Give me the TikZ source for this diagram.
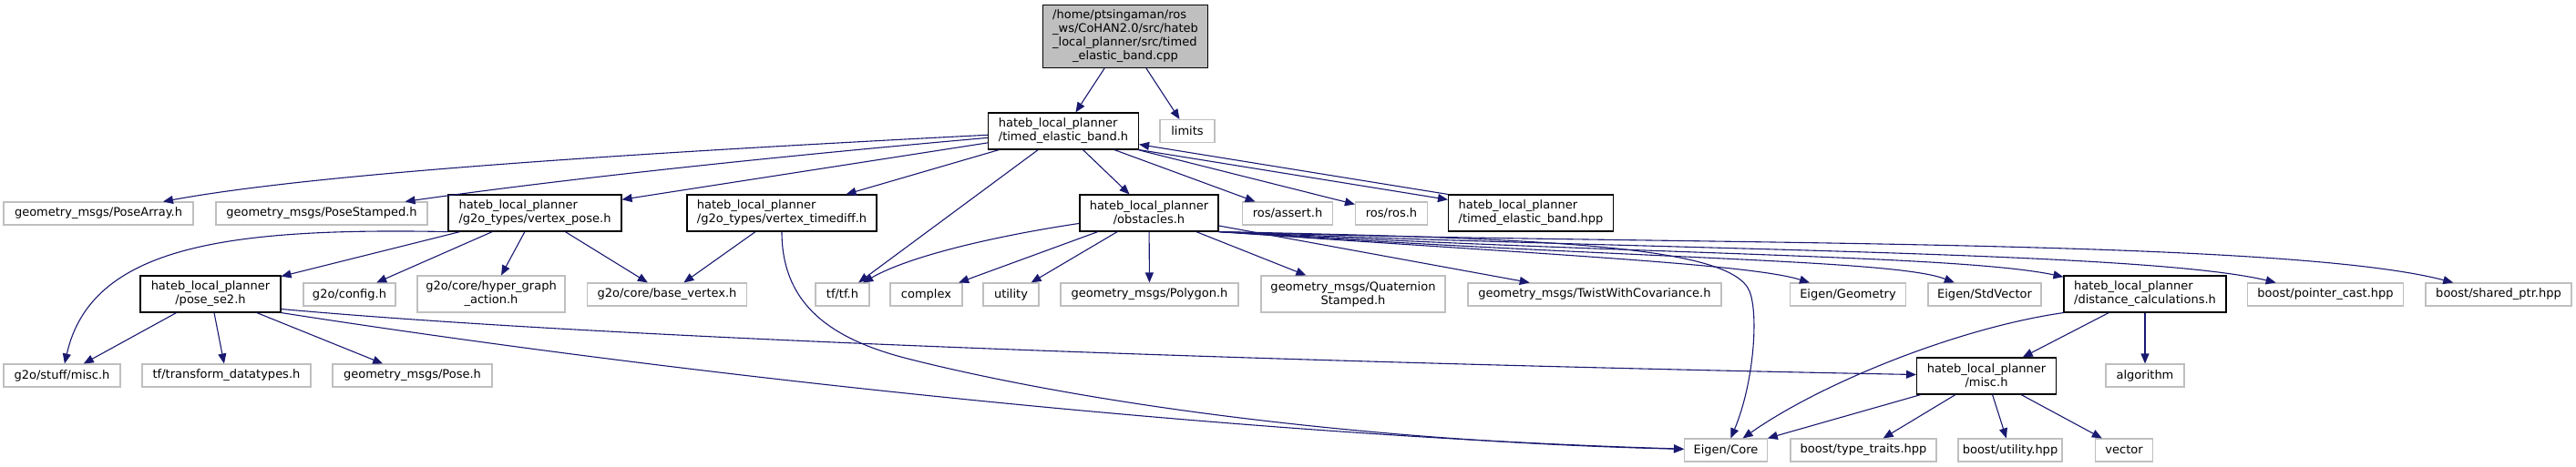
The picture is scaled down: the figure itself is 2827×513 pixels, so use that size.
\documentclass[tikz,border=0pt]{standalone}
\usepackage{fontspec}
\setmainfont{DejaVu Sans}
\usetikzlibrary{arrows.meta}
\definecolor{edgeblue}{HTML}{191970}
\definecolor{boxgray}{HTML}{BFBFBF}
\tikzset{
  file/.style={draw=black, line width=0.55pt, inner sep=0pt, minimum height=20pt,
    font=\fontsize{6.5}{7.5}\selectfont},
  sysfile/.style={file, draw=boxgray, minimum height=12.5pt},
  inc/.style={draw=edgeblue, line width=0.55pt, -{Triangle[length=5.5pt,width=4.5pt]}}
}
\begin{document}
\begin{tikzpicture}[x=0.5pt, y=-0.5pt]
  \useasboundingbox (0,0) rectangle (2827,513);

  % top
  \node[file, fill=boxgray, minimum width=90.5pt, minimum height=34.5pt] (main) at (1235,40)
    {\begin{tabular}{@{}l@{}}/home/ptsingaman/ros\\ \_ws/CoHAN2.0/src/hateb\\
     \_local\_planner/src/timed\\ \multicolumn{1}{@{}c@{}}{\_elastic\_band.cpp}\end{tabular}};
  \node[file, minimum width=82.5pt, align=left] (teb) at (1167,144) {hateb\_local\_planner\\/timed\_elastic\_band.h};
  \node[sysfile, minimum width=30pt] (limits) at (1303,144) {limits};

  % second row
  \node[sysfile, minimum width=104pt] (posearr) at (108,234.5) {geometry\_msgs/PoseArray.h};
  \node[sysfile, minimum width=116pt] (posestamp) at (353,234.5) {geometry\_msgs/PoseStamped.h};
  \node[file, minimum width=95pt, align=left] (vpose) at (587,234) {hateb\_local\_planner\\/g2o\_types/vertex\_pose.h};
  \node[file, minimum width=104pt, align=left] (vtdiff) at (858,234) {hateb\_local\_planner\\/g2o\_types/vertex\_timediff.h};
  \node[file, minimum width=76pt, align=center] (obst) at (1261,234) {hateb\_local\_planner\\/obstacles.h};
  \node[sysfile, minimum width=49.5pt] (rosassert) at (1413,234.5) {ros/assert.h};
  \node[sysfile, minimum width=39.5pt] (rosros) at (1527,234.5) {ros/ros.h};
  \node[file, minimum width=90.5pt, align=left] (tebhpp) at (1680,234) {hateb\_local\_planner\\/timed\_elastic\_band.hpp};

  % third row
  \node[file, minimum width=77pt, align=center] (pose) at (231,323) {hateb\_local\_planner\\/pose\_se2.h};
  \node[sysfile, minimum width=50.5pt] (config) at (383.5,323.5) {g2o/config.h};
  \node[sysfile, minimum width=81pt, minimum height=20pt, align=center] (hyper) at (539,323) {g2o/core/hyper\_graph\\\_action.h};
  \node[sysfile, minimum width=87.5pt] (basevtx) at (732,323.5) {g2o/core/base\_vertex.h};
  \node[sysfile, minimum width=29.5pt] (tftf) at (924.5,323.5) {tf/tf.h};
  \node[sysfile, minimum width=39.5pt] (complex) at (1016.5,323.5) {complex};
  \node[sysfile, minimum width=30.5pt] (utility) at (1109.5,323.5) {utility};
  \node[sysfile, minimum width=97.5pt] (polygon) at (1261.5,323.5) {geometry\_msgs/Polygon.h};
  \node[sysfile, minimum width=101pt, minimum height=20pt, align=center] (quat) at (1485,323) {geometry\_msgs/Quaternion\\Stamped.h};
  \node[sysfile, minimum width=139pt] (twist) at (1750,323.5) {geometry\_msgs/TwistWithCovariance.h};
  \node[sysfile, minimum width=63.5pt] (egeom) at (2028,323.5) {Eigen/Geometry};
  \node[sysfile, minimum width=62pt] (estdvec) at (2178,323.5) {Eigen/StdVector};
  \node[file, minimum width=89pt, align=left] (distcalc) at (2354,323) {hateb\_local\_planner\\/distance\_calculations.h};
  \node[sysfile, minimum width=85.5pt] (ptrcast) at (2552,323.5) {boost/pointer\_cast.hpp};
  \node[sysfile, minimum width=80pt] (shptr) at (2742,323.5) {boost/shared\_ptr.hpp};

  % fourth row
  \node[sysfile, minimum width=64pt] (g2omisc) at (68,412.5) {g2o/stuff/misc.h};
  \node[sysfile, minimum width=92.5pt] (tftrans) at (248.5,412.5) {tf/transform\_datatypes.h};
  \node[sysfile, minimum width=87.5pt] (geopose) at (452.5,412.5) {geometry\_msgs/Pose.h};
  \node[file, minimum width=76.5pt, align=center] (misc) at (2180,413) {hateb\_local\_planner\\/misc.h};
  \node[sysfile, minimum width=43pt] (algo) at (2354,412.5) {algorithm};

  % bottom
  \node[sysfile, minimum width=45.5pt] (ecore) at (1894,494.5) {Eigen/Core};
  \node[sysfile, minimum width=80pt] (typetr) at (2045,494.5) {boost/type\_traits.hpp};
  \node[sysfile, minimum width=57pt] (butil) at (2206,494.5) {boost/utility.hpp};
  \node[sysfile, minimum width=31.5pt] (vector) at (2331,494.5) {vector};

  % includes
  \draw[inc] (main) -- (teb);
  \draw[inc] (main) -- (limits);

  \draw[inc] (teb) .. controls (700,168) and (350,190) .. (posearr);
  \draw[inc] (teb) .. controls (760,180) and (560,205) .. (posestamp);
  \draw[inc] (teb) -- (vpose);
  \draw[inc] (teb) -- (vtdiff);
  \draw[inc] (teb) -- (tftf);
  \draw[inc] (teb) -- (obst);
  \draw[inc] (teb) -- (rosassert);
  \draw[inc] (teb) -- (rosros);
  \draw[inc] (teb.south east) -- (tebhpp);
  \draw[inc] (tebhpp.north west) -- (teb.-10);

  \draw[inc] (vpose.south west) .. controls (250,250) and (100,270) .. (g2omisc);
  \draw[inc] (vpose) -- (pose);
  \draw[inc] (vpose) -- (config);
  \draw[inc] (vpose) -- (hyper);
  \draw[inc] (vpose) -- (basevtx);

  \draw[inc] (vtdiff) -- (basevtx);
  \draw[inc] (vtdiff) .. controls (858,340) and (920,375) .. (1000,395)
    .. controls (1200,445) and (1500,485) .. (ecore);

  \draw[inc] (pose) -- (g2omisc);
  \draw[inc] (pose) -- (tftrans);
  \draw[inc] (pose) -- (geopose);
  \draw[inc] (pose.-12) .. controls (700,375) and (1500,400) .. (misc);
  \draw[inc] (pose.south east) .. controls (800,420) and (1400,480) .. (ecore);

  \draw[inc] (obst) .. controls (1100,258) and (1000,280) .. (tftf);
  \draw[inc] (obst) -- (complex);
  \draw[inc] (obst) -- (utility);
  \draw[inc] (obst) -- (polygon);
  \draw[inc] (obst) -- (quat);
  \draw[inc] (obst) -- (twist);
  \draw[inc] (obst.south east) .. controls (1700,280) and (1920,290) .. (egeom);
  \draw[inc] (obst.south east) .. controls (1800,285) and (2080,285) .. (estdvec);
  \draw[inc] (obst.south east) .. controls (1800,280) and (2150,280) .. (distcalc);
  \draw[inc] (obst.south east) .. controls (1800,275) and (2350,275) .. (ptrcast);
  \draw[inc] (obst.south east) .. controls (1800,270) and (2500,260) .. (shptr);
  \draw[inc] (obst.south east) .. controls (1700,262) and (1900,270) .. (1920,320)
    .. controls (1930,345) and (1925,420) .. (ecore);

  \draw[inc] (distcalc) -- (misc);
  \draw[inc] (distcalc) -- (algo);
  \draw[inc] (distcalc.south west) .. controls (2150,360) and (2000,420) .. (ecore);

  \draw[inc] (misc) -- (ecore);
  \draw[inc] (misc) -- (typetr);
  \draw[inc] (misc) -- (butil);
  \draw[inc] (misc) -- (vector);
\end{tikzpicture}
\end{document}
